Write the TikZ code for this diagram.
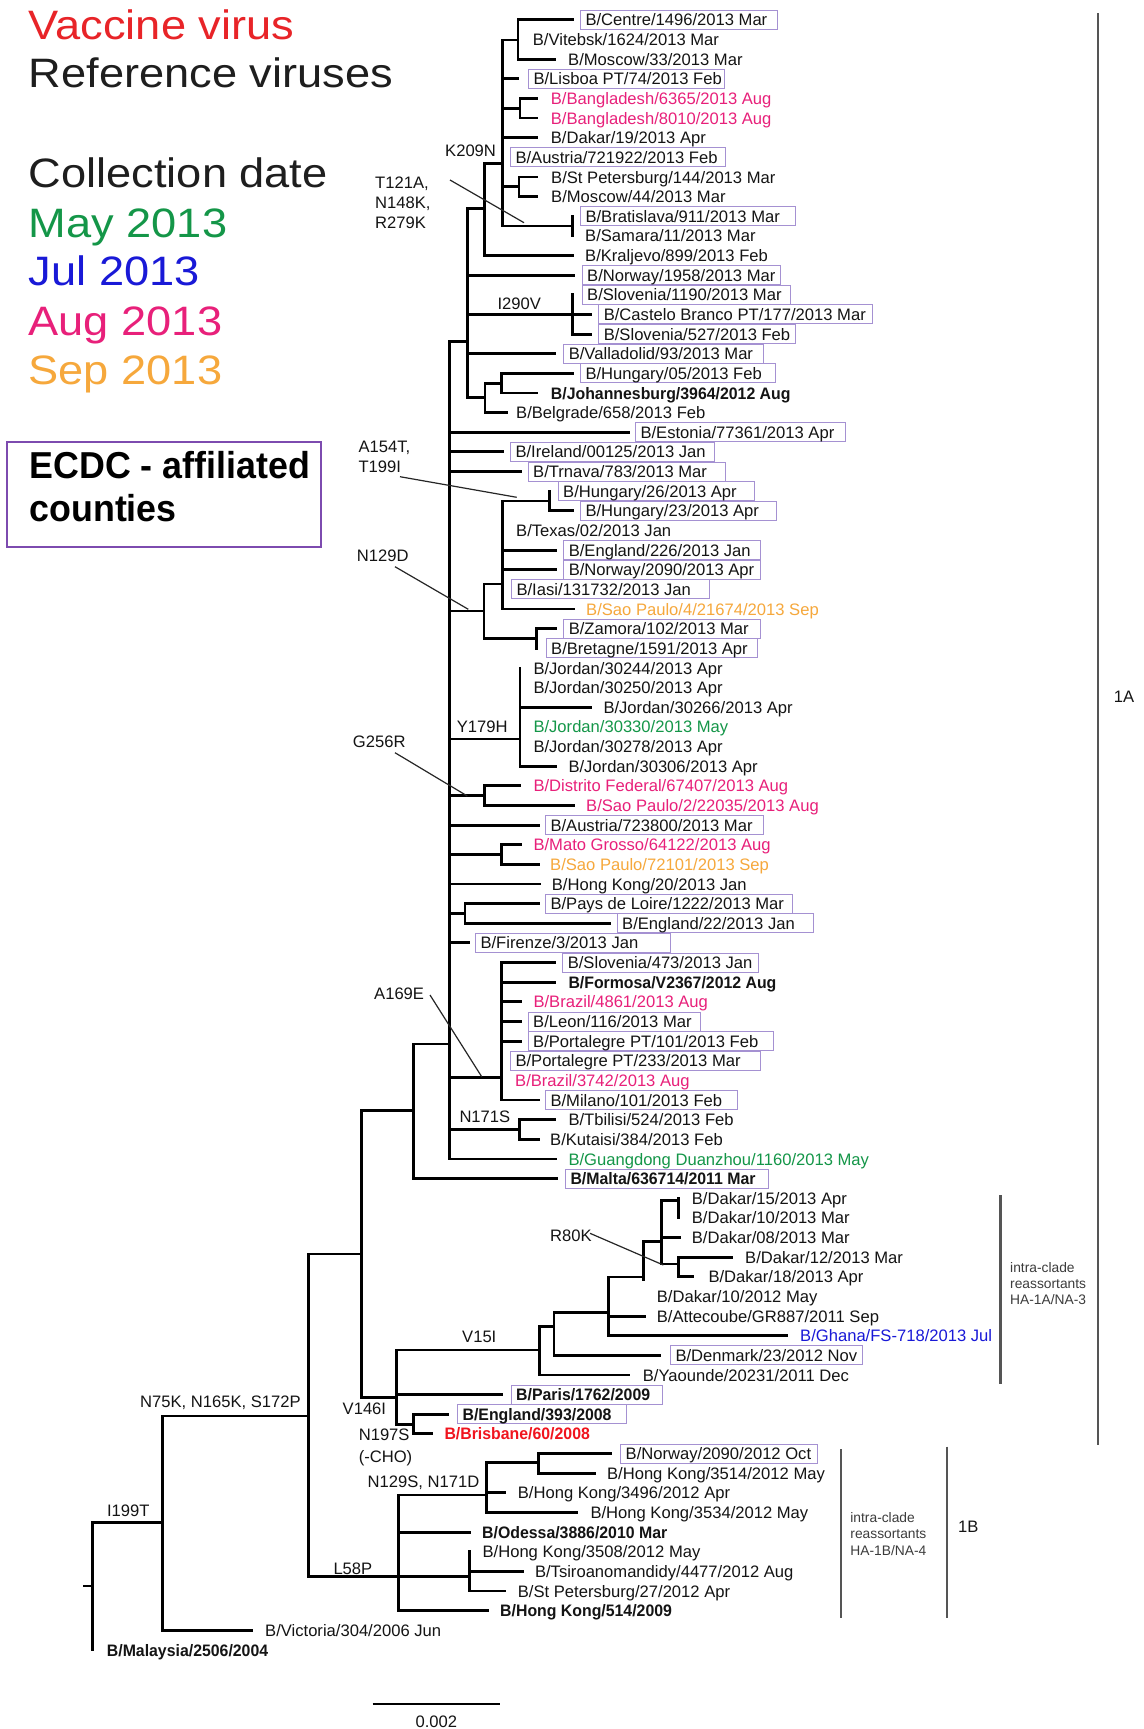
\documentclass[tikz,border=0pt]{standalone}
\usepackage{fontspec}
\setmainfont{Liberation Sans}
\newfontfamily\nbfam[FakeStretch=0.955]{Liberation Sans}
\newfontfamily\legfam[FakeStretch=1.1]{Liberation Sans}
\definecolor{boxc}{RGB}{165,145,210}
\definecolor{ecdcc}{RGB}{125,75,175}
\definecolor{pinkc}{RGB}{232,32,122}
\definecolor{greenc}{RGB}{20,150,72}
\definecolor{orangec}{RGB}{246,168,60}
\definecolor{bluec}{RGB}{25,25,215}
\definecolor{redc}{RGB}{232,36,40}
\definecolor{brisc}{RGB}{240,20,30}
\definecolor{clc}{RGB}{85,85,85}
\definecolor{smc}{RGB}{60,60,60}
\definecolor{dkc}{RGB}{30,30,30}
\tikzset{
 brn/.style={line width=2.9pt, line cap=rect, line join=miter, draw=black},
 ldr/.style={line width=1.2pt, draw=black!85},
 lbl/.style={anchor=west, inner xsep=0pt, inner ysep=1.5pt, text height=14pt, text depth=2pt, font=\fontsize{16.6}{18}\selectfont, text=black!92},
 bxd/.style={draw=boxc, line width=1pt, inner xsep=5pt},
 bld/.style={font=\nbfam\bfseries\fontsize{16.6}{18}\selectfont},
 lgd/.style={anchor=base west, inner sep=0pt, font=\legfam\fontsize{41.1}{44}\selectfont},
 ect/.style={anchor=base west, inner sep=0pt, font=\nbfam\bfseries\fontsize{37.5}{40}\selectfont, text=black},
 clb/.style={line width=2.3pt, draw=clc},
 smt/.style={anchor=west, align=left, inner sep=0pt, font=\fontsize{13.8}{16.3}\selectfont, text=smc},
}
\newcommand\Lf[5][]{\node[lbl,#1] (#2) at (#3,#4) {#5};}
\newcommand\Lb[6][]{\node[lbl,bxd,#1] (#2) at ({#3-5},#4) {\makebox[\dimexpr #5pt-#3pt-5pt\relax][l]{#6}};}
\begin{document}
\begin{tikzpicture}[x=1pt,y=-1pt]
\fill[white] (0,0) rectangle (1143,1729);
\useasboundingbox (0,0) rectangle (1143,1729);

% ---------- legend ----------
\node[lgd,text=redc] (lg1) at (28.5,39.3) {Vaccine virus};
\node[lgd,text=dkc] (lg2) at (28.5,87.5) {Reference viruses};
\node[lgd,text=dkc] (lg3) at (28.5,187.5) {Collection date};
\node[lgd,text=greenc] (lg4) at (28.5,237.5) {May 2013};
\node[lgd,text=bluec] (lg5) at (28.5,285.7) {Jul 2013};
\node[lgd,text=pinkc] (lg6) at (28.5,335.7) {Aug 2013};
\node[lgd,text=orangec] (lg7) at (28.5,384) {Sep 2013};
\draw[ecdcc,line width=2pt] (7.3,441.8) rectangle (320.7,547.1);
\node[ect] (ec1) at (29.3,478.3) {ECDC - affiliated};
\node[ect] (ec2) at (29.3,521) {counties};

% ---------- internal nodes ----------
\coordinate (A1) at (518,40);
\coordinate (A2) at (502.7,163.3);
\coordinate (A3) at (484.3,208.3);
\coordinate (A4) at (467.3,341.7);
\coordinate (B1) at (520,108.2);
\coordinate (B2) at (519,186.8);
\coordinate (B3) at (572.7,226);
\coordinate (C1) at (572.7,314.4);
\coordinate (C2) at (485,397.9);
\coordinate (C3) at (501.7,383.2);
\coordinate (BB) at (449.3,1044);
\coordinate (E1) at (484,611);
\coordinate (E2) at (502.7,584);
\coordinate (E3) at (549.3,501);
\coordinate (E4) at (536.7,638.5);
\coordinate (F1) at (520,739);
\coordinate (F2) at (484.3,795.6);
\coordinate (F3) at (501.7,854.5);
\coordinate (F4) at (465,913.4);
\coordinate (G1) at (501.7,1077.3);
\coordinate (G2) at (519.3,1129.5);
\coordinate (D1) at (413.3,1110.7);
\coordinate (D2) at (361.5,1254);
\coordinate (D3) at (308.6,1416);
\coordinate (D4) at (162.9,1522.7);
\coordinate (R) at (92.7,1586);
\coordinate (R0) at (84,1586);
\coordinate (H1) at (396.1,1397.3);
\coordinate (H2) at (539.1,1350);
\coordinate (H3) at (554,1326.7);
\coordinate (H4) at (608.3,1312.7);
\coordinate (H5) at (643.3,1277);
\coordinate (H6) at (661.7,1241.7);
\coordinate (H7) at (678.3,1200.7);
\coordinate (H8) at (678.3,1264);
\coordinate (H9) at (413.9,1424.1);
\coordinate (I1) at (398.6,1576.7);
\coordinate (I2) at (486.4,1495);
\coordinate (I3) at (538.9,1462.5);
\coordinate (I4) at (469.3,1576.7);

% ---------- tips ----------
\coordinate (t0) at (573,19.8);
\coordinate (t1) at (518,39.5);
\coordinate (t2) at (555,59.1);
\coordinate (t3) at (518,78.8);
\coordinate (t4) at (537,98.4);
\coordinate (t5) at (537,118);
\coordinate (t6) at (537,137.7);
\coordinate (t7) at (502.7,157.3);
\coordinate (t8) at (537,177);
\coordinate (t9) at (537,196.6);
\coordinate (t10) at (572.7,216.2);
\coordinate (t11) at (572.7,235.9);
\coordinate (t12) at (572.7,255.5);
\coordinate (t13) at (573.3,275.2);
\coordinate (t14) at (572.7,294.8);
\coordinate (t15) at (590.7,314.4);
\coordinate (t16) at (590.7,334.1);
\coordinate (t17) at (555,353.7);
\coordinate (t18) at (572.7,373.4);
\coordinate (t19) at (536.7,393);
\coordinate (t20) at (506.7,412.6);
\coordinate (t21) at (628.3,432.3);
\coordinate (t22) at (502.7,451.9);
\coordinate (t23) at (521,471.6);
\coordinate (t24) at (549.3,491.2);
\coordinate (t25) at (572.7,510.8);
\coordinate (t26) at (502.7,530.5);
\coordinate (t27) at (556,550.1);
\coordinate (t28) at (556,569.8);
\coordinate (t29) at (502.7,589.4);
\coordinate (t30) at (573.3,609);
\coordinate (t31) at (556,628.7);
\coordinate (t32) at (536.7,648.3);
\coordinate (t33) at (520,668);
\coordinate (t34) at (520,687.6);
\coordinate (t35) at (590.7,707.2);
\coordinate (t36) at (520,726.9);
\coordinate (t37) at (520,746.5);
\coordinate (t38) at (556,766.2);
\coordinate (t39) at (520,785.8);
\coordinate (t40) at (573.3,805.4);
\coordinate (t41) at (538.3,825.1);
\coordinate (t42) at (520.7,844.7);
\coordinate (t43) at (538.3,864.4);
\coordinate (t44) at (539.3,884);
\coordinate (t45) at (538.3,903.6);
\coordinate (t46) at (609.3,923.3);
\coordinate (t47) at (468.3,942.9);
\coordinate (t48) at (555,962.6);
\coordinate (t49) at (555,982.2);
\coordinate (t50) at (520.7,1001.8);
\coordinate (t51) at (520.7,1021.5);
\coordinate (t52) at (520.7,1041.1);
\coordinate (t53) at (501.7,1060.8);
\coordinate (t54) at (501.7,1080.4);
\coordinate (t55) at (538.3,1100);
\coordinate (t56) at (555,1119.7);
\coordinate (t57) at (538.3,1139.3);
\coordinate (t58) at (556,1159);
\coordinate (t59) at (556.7,1178.6);
\coordinate (t60) at (678.3,1198.2);
\coordinate (t61) at (678.3,1217.9);
\coordinate (t62) at (680,1237.5);
\coordinate (t63) at (731.7,1257.2);
\coordinate (t64) at (692.7,1276.8);
\coordinate (t65) at (643.3,1280);
\coordinate (t66) at (645,1316.1);
\coordinate (t67) at (786.7,1335.7);
\coordinate (t68) at (659.3,1355.4);
\coordinate (t69) at (628.3,1375);
\coordinate (t70) at (501.4,1394.6);
\coordinate (t71) at (447.9,1414.3);
\coordinate (t72) at (431.8,1433.9);
\coordinate (t73) at (611,1453.6);
\coordinate (t74) at (594.6,1473.2);
\coordinate (t75) at (505,1492.8);
\coordinate (t76) at (576.4,1512.5);
\coordinate (t77) at (469.3,1532.1);
\coordinate (t78) at (469.3,1551.8);
\coordinate (t79) at (522.7,1571.4);
\coordinate (t80) at (505,1591);
\coordinate (t81) at (487.3,1610.7);
\coordinate (t82) at (251.7,1630.3);
\coordinate (t83) at (92.7,1650);

% ---------- branches ----------
\draw[brn] (A1) |- (t0) (A1) |- (t1) (A1) |- (t2);
\draw[brn] (A2) |- (A1) (A2) |- (t3) (A2) |- (B1) (A2) |- (t6) (A2) |- (t7) (A2) |- (B2) (A2) |- (B3);
\draw[brn] (B1) |- (t4) (B1) |- (t5);
\draw[brn] (B2) |- (t8) (B2) |- (t9);
\draw[brn] (B3) |- (t10) (B3) |- (t11);
\draw[brn] (A3) |- (A2) (A3) |- (t12);
\draw[brn] (A4) |- (A3) (A4) |- (t13) (A4) |- (C1) (A4) |- (t17) (A4) |- (C2);
\draw[brn] (C1) |- (t14) (C1) |- (t15) (C1) |- (t16);
\draw[brn] (C2) |- (C3) (C2) |- (t20);
\draw[brn] (C3) |- (t18) (C3) |- (t19);
\draw[brn] (BB) |- (A4) (BB) |- (t21) (BB) |- (t22) (BB) |- (t23) (BB) |- (E1) (BB) |- (F1) (BB) |- (F2) (BB) |- (t41) (BB) |- (F3) (BB) |- (t44) (BB) |- (F4) (BB) |- (t47) (BB) |- (G1) (BB) |- (G2) (BB) |- (t58);
\draw[brn] (E1) |- (E2) (E1) |- (E4);
\draw[brn] (E2) |- (E3) (E2) |- (t26) (E2) |- (t27) (E2) |- (t28) (E2) |- (t29) (E2) |- (t30);
\draw[brn] (E3) |- (t24) (E3) |- (t25);
\draw[brn] (E4) |- (t31) (E4) |- (t32);
\draw[brn] (F1) |- (t33) (F1) |- (t34) (F1) |- (t35) (F1) |- (t36) (F1) |- (t37) (F1) |- (t38);
\draw[brn] (F2) |- (t39) (F2) |- (t40);
\draw[brn] (F3) |- (t42) (F3) |- (t43);
\draw[brn] (F4) |- (t45) (F4) |- (t46);
\draw[brn] (G1) |- (t48) (G1) |- (t49) (G1) |- (t50) (G1) |- (t51) (G1) |- (t52) (G1) |- (t53) (G1) |- (t54) (G1) |- (t55);
\draw[brn] (G2) |- (t56) (G2) |- (t57);
\draw[brn] (D1) |- (BB) (D1) |- (t59);
\draw[brn] (D2) |- (D1) (D2) |- (H1);
\draw[brn] (H1) |- (H2) (H1) |- (t70) (H1) |- (H9);
\draw[brn] (H2) |- (H3) (H2) |- (t69);
\draw[brn] (H3) |- (H4) (H3) |- (t68);
\draw[brn] (H4) |- (H5) (H4) |- (t66) (H4) |- (t67);
\draw[brn] (H5) |- (H6) (H5) |- (t65);
\draw[brn] (H6) |- (H7) (H6) |- (t62) (H6) |- (H8);
\draw[brn] (H7) |- (t60) (H7) |- (t61);
\draw[brn] (H8) |- (t63) (H8) |- (t64);
\draw[brn] (H9) |- (t71) (H9) |- (t72);
\draw[brn] (D3) |- (D2) (D3) |- (I1);
\draw[brn] (I1) |- (I2) (I1) |- (t77) (I1) -- (I4) (I1) |- (t81);
\draw[brn] (I2) |- (I3) (I2) |- (t75) (I2) |- (t76);
\draw[brn] (I3) |- (t73) (I3) |- (t74);
\draw[brn] (I4) |- (t78) (I4) |- (t79) (I4) |- (t80);
\draw[brn] (D4) |- (D3) (D4) |- (t82);
\draw[brn] (R) |- (D4) (R) |- (t83);
\draw[brn] (R0) -- (R);

% ---------- leaf labels ----------
\Lb{l0}{585}{19.8}{777}{B/Centre/1496/2013 Mar}
\Lf{l1}{532.7}{39.5}{B/Vitebsk/1624/2013 Mar}
\Lf{l2}{568}{59.1}{B/Moscow/33/2013 Mar}
\Lb{l3}{533}{78.8}{724}{B/Lisboa PT/74/2013 Feb}
\Lf[text=pinkc]{l4}{550.7}{98.4}{B/Bangladesh/6365/2013 Aug}
\Lf[text=pinkc]{l5}{550.7}{118}{B/Bangladesh/8010/2013 Aug}
\Lf{l6}{550.7}{137.7}{B/Dakar/19/2013 Apr}
\Lb{l7}{515}{157.3}{725}{B/Austria/721922/2013 Feb}
\Lf{l8}{551}{177}{B/St Petersburg/144/2013 Mar}
\Lf{l9}{551}{196.6}{B/Moscow/44/2013 Mar}
\Lb{l10}{585}{216.2}{795}{B/Bratislava/911/2013 Mar}
\Lf{l11}{585}{235.9}{B/Samara/11/2013 Mar}
\Lf{l12}{585}{255.5}{B/Kraljevo/899/2013 Feb}
\Lb{l13}{586.7}{275.2}{780}{B/Norway/1958/2013 Mar}
\Lb{l14}{586.7}{294.8}{790}{B/Slovenia/1190/2013 Mar}
\Lb{l15}{603.3}{314.4}{871.7}{B/Castelo Branco PT/177/2013 Mar}
\Lb{l16}{603.3}{334.1}{795}{B/Slovenia/527/2013 Feb}
\Lb{l17}{568.3}{353.7}{762.7}{B/Valladolid/93/2013 Mar}
\Lb{l18}{585}{373.4}{775}{B/Hungary/05/2013 Feb}
\Lf[bld]{l19}{550.7}{393}{B/Johannesburg/3964/2012 Aug}
\Lf{l20}{516}{412.6}{B/Belgrade/658/2013 Feb}
\Lb{l21}{640}{432.3}{845}{B/Estonia/77361/2013 Apr}
\Lb{l22}{515}{451.9}{714}{B/Ireland/00125/2013 Jan}
\Lb{l23}{532.7}{471.6}{725}{B/Trnava/783/2013 Mar}
\Lb{l24}{562.7}{491.2}{754}{B/Hungary/26/2013 Apr}
\Lb{l25}{585}{510.8}{775.7}{B/Hungary/23/2013 Apr}
\Lf{l26}{516}{530.5}{B/Texas/02/2013 Jan}
\Lb{l27}{568.3}{550.1}{760}{B/England/226/2013 Jan}
\Lb{l28}{568.3}{569.8}{760}{B/Norway/2090/2013 Apr}
\Lb{l29}{516}{589.4}{709.3}{B/Iasi/131732/2013 Jan}
\Lf[text=orangec]{l30}{586}{609}{B/Sao Paulo/4/21674/2013 Sep}
\Lb{l31}{568.3}{628.7}{760}{B/Zamora/102/2013 Mar}
\Lb{l32}{550.7}{648.3}{756.7}{B/Bretagne/1591/2013 Apr}
\Lf{l33}{533.3}{668}{B/Jordan/30244/2013 Apr}
\Lf{l34}{533.3}{687.6}{B/Jordan/30250/2013 Apr}
\Lf{l35}{603.3}{707.2}{B/Jordan/30266/2013 Apr}
\Lf[text=greenc]{l36}{533.3}{726.9}{B/Jordan/30330/2013 May}
\Lf{l37}{533.3}{746.5}{B/Jordan/30278/2013 Apr}
\Lf{l38}{568.3}{766.2}{B/Jordan/30306/2013 Apr}
\Lf[text=pinkc]{l39}{533.3}{785.8}{B/Distrito Federal/67407/2013 Aug}
\Lf[text=pinkc]{l40}{586}{805.4}{B/Sao Paulo/2/22035/2013 Aug}
\Lb{l41}{550}{825.1}{762.7}{B/Austria/723800/2013 Mar}
\Lf[text=pinkc]{l42}{533.3}{844.7}{B/Mato Grosso/64122/2013 Aug}
\Lf[text=orangec]{l43}{550}{864.4}{B/Sao Paulo/72101/2013 Sep}
\Lf{l44}{551.7}{884}{B/Hong Kong/20/2013 Jan}
\Lb{l45}{550}{903.6}{791.7}{B/Pays de Loire/1222/2013 Mar}
\Lb{l46}{621.7}{923.3}{813.3}{B/England/22/2013 Jan}
\Lb{l47}{480}{942.9}{670}{B/Firenze/3/2013 Jan}
\Lb{l48}{567.3}{962.6}{758.3}{B/Slovenia/473/2013 Jan}
\Lf[bld]{l49}{568.3}{982.2}{B/Formosa/V2367/2012 Aug}
\Lf[text=pinkc]{l50}{533.3}{1001.8}{B/Brazil/4861/2013 Aug}
\Lb{l51}{532.7}{1021.5}{700}{B/Leon/116/2013 Mar}
\Lb{l52}{532.7}{1041.1}{772.7}{B/Portalegre PT/101/2013 Feb}
\Lb{l53}{515}{1060.8}{760}{B/Portalegre PT/233/2013 Mar}
\Lf[text=pinkc]{l54}{515}{1080.4}{B/Brazil/3742/2013 Aug}
\Lb{l55}{550}{1100}{737.3}{B/Milano/101/2013 Feb}
\Lf{l56}{568.3}{1119.7}{B/Tbilisi/524/2013 Feb}
\Lf{l57}{550}{1139.3}{B/Kutaisi/384/2013 Feb}
\Lf[text=greenc]{l58}{568.3}{1159}{B/Guangdong Duanzhou/1160/2013 May}
\Lb[bld]{l59}{570}{1178.6}{768.3}{B/Malta/636714/2011 Mar}
\Lf{l60}{691.7}{1198.2}{B/Dakar/15/2013 Apr}
\Lf{l61}{691.7}{1217.9}{B/Dakar/10/2013 Mar}
\Lf{l62}{691.7}{1237.5}{B/Dakar/08/2013 Mar}
\Lf{l63}{745}{1257.2}{B/Dakar/12/2013 Mar}
\Lf{l64}{708.3}{1276.8}{B/Dakar/18/2013 Apr}
\Lf{l65}{656.7}{1296.4}{B/Dakar/10/2012 May}
\Lf{l66}{656.7}{1316.1}{B/Attecoube/GR887/2011 Sep}
\Lf[text=bluec]{l67}{800}{1335.7}{B/Ghana/FS-718/2013 Jul}
\Lb{l68}{675}{1355.4}{861.7}{B/Denmark/23/2012 Nov}
\Lf{l69}{642.7}{1375}{B/Yaounde/20231/2011 Dec}
\Lb[bld]{l70}{515.7}{1394.6}{662.4}{B/Paris/1762/2009}
\Lb[bld]{l71}{462.1}{1414.3}{626.4}{B/England/393/2008}
\Lf[bld,text=brisc]{l72}{444.3}{1433.9}{B/Brisbane/60/2008}
\Lb{l73}{625.2}{1453.6}{816.7}{B/Norway/2090/2012 Oct}
\Lf{l74}{606.9}{1473.2}{B/Hong Kong/3514/2012 May}
\Lf{l75}{517.7}{1492.8}{B/Hong Kong/3496/2012 Apr}
\Lf{l76}{590.3}{1512.5}{B/Hong Kong/3534/2012 May}
\Lf[bld]{l77}{482}{1532.1}{B/Odessa/3886/2010 Mar}
\Lf{l78}{482.4}{1551.8}{B/Hong Kong/3508/2012 May}
\Lf{l79}{534.8}{1571.4}{B/Tsiroanomandidy/4477/2012 Aug}
\Lf{l80}{517.7}{1591}{B/St Petersburg/27/2012 Apr}
\Lf[bld]{l81}{500}{1610.7}{B/Hong Kong/514/2009}
\Lf{l82}{265}{1630.3}{B/Victoria/304/2006 Jun}
\Lf[bld]{l83}{106.7}{1650}{B/Malaysia/2506/2004}

% ---------- mutation labels ----------
\Lf{mK209N}{445}{150}{K209N}
\Lf{mT1}{375}{182}{T121A,}
\Lf{mT2}{375}{202}{N148K,}
\Lf{mT3}{375}{222}{R279K}
\Lf{mI290V}{497.3}{303.3}{I290V}
\Lf{mA154T}{358.3}{446}{A154T,}
\Lf{mT199I}{358.3}{466}{T199I}
\Lf{mN129D}{356.7}{555}{N129D}
\Lf{mY179H}{456.7}{726}{Y179H}
\Lf{mG256R}{352.7}{741}{G256R}
\Lf{mA169E}{374}{993.3}{A169E}
\Lf{mN171S}{459.3}{1116.7}{N171S}
\Lf{mR80K}{550}{1235}{R80K}
\Lf{mV15I}{462}{1336}{V15I}
\Lf{mV146I}{342.5}{1408.3}{V146I}
\Lf{mN197S}{358.6}{1434}{N197S}
\Lf{mCHO}{358.6}{1456}{(-CHO)}
\Lf{mN129S}{367.5}{1481.7}{N129S, N171D}
\Lf{mN75K}{140}{1401.7}{N75K, N165K, S172P}
\Lf{mI199T}{106.8}{1510}{I199T}
\Lf{mL58P}{333.3}{1568.3}{L58P}

% ---------- leader lines ----------
\coordinate (k1a) at (450,180);   \coordinate (k1b) at (524,222.7);
\coordinate (k2a) at (400,476.7); \coordinate (k2b) at (516.7,497.3);
\coordinate (k3a) at (395,566.7); \coordinate (k3b) at (468.3,609.3);
\coordinate (k4a) at (395,752.7); \coordinate (k4b) at (467.3,796);
\coordinate (k5a) at (430,995);   \coordinate (k5b) at (481.7,1076.7);
\coordinate (k6a) at (590,1233.3); \coordinate (k6b) at (663.3,1265);
\draw[ldr] (k1a) -- (k1b);
\draw[ldr] (k2a) -- (k2b);
\draw[ldr] (k3a) -- (k3b);
\draw[ldr] (k4a) -- (k4b);
\draw[ldr] (k5a) -- (k5b);
\draw[ldr] (k6a) -- (k6b);

% ---------- clade bars ----------
\coordinate (c1a) at (1098,13.2); \coordinate (c1b) at (1098,1445);
\draw[clb] (c1a) -- (c1b);
\node[lbl,anchor=center] (lab1A) at (1124,696.6) {1A};
\coordinate (c2a) at (1000.5,1195); \coordinate (c2b) at (1000.5,1384);
\draw[clb] (c2a) -- (c2b);
\node[smt] (ic1) at (1010,1283.5) {intra-clade\\reassortants\\HA-1A/NA-3};
\coordinate (c3a) at (840.7,1449); \coordinate (c3b) at (840.7,1618.3);
\draw[clb] (c3a) -- (c3b);
\node[smt] (ic2) at (850.2,1534) {intra-clade\\reassortants\\HA-1B/NA-4};
\coordinate (c4a) at (947.2,1446.7); \coordinate (c4b) at (947.2,1618);
\draw[clb] (c4a) -- (c4b);
\node[lbl,anchor=center] (lab1B) at (968.3,1526.7) {1B};

% ---------- scale bar ----------
\coordinate (sb1) at (372.7,1704); \coordinate (sb2) at (500,1704);
\draw[line width=2.8pt] (sb1) -- (sb2);
\node[lbl,anchor=center] (sbl) at (436.3,1721.7) {0.002};
\end{tikzpicture}
\end{document}
